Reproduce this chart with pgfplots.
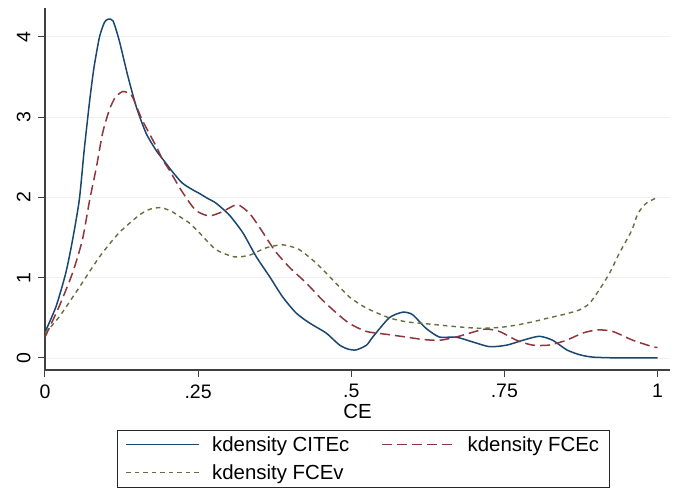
\documentclass[border=0pt]{standalone}
\usepackage{fontspec}
\setmainfont{Liberation Sans}
\usepackage{pgfplots}
\pgfplotsset{compat=1.18}

\definecolor{stnavy}{RGB}{26,71,111}
\definecolor{stmaroon}{RGB}{144,53,59}
\definecolor{stgreen}{RGB}{98,112,64}

\pgfplotstableread{
x y
0 0.32
0.018 0.64
0.034 1.06
0.045 1.47
0.056 1.97
0.064 2.59
0.073 3.21
0.080 3.62
0.089 4.00
0.097 4.18
0.103 4.22
0.111 4.20
0.121 3.96
0.135 3.52
0.149 3.13
0.165 2.80
0.182 2.58
0.195 2.45
0.208 2.32
0.224 2.18
0.240 2.10
0.252 2.05
0.265 1.99
0.279 1.93
0.301 1.78
0.323 1.56
0.345 1.26
0.367 1.01
0.388 0.76
0.410 0.56
0.431 0.44
0.459 0.31
0.481 0.16
0.495 0.11
0.508 0.10
0.525 0.16
0.535 0.26
0.562 0.50
0.584 0.57
0.600 0.54
0.622 0.37
0.644 0.26
0.671 0.26
0.698 0.20
0.726 0.14
0.754 0.16
0.780 0.22
0.807 0.27
0.829 0.22
0.852 0.10
0.873 0.04
0.895 0.01
0.940 0.00
1.000 0.00
}\citec

\pgfplotstableread{
x y
0 0.26
0.023 0.64
0.045 1.06
0.061 1.47
0.073 1.97
0.084 2.38
0.094 2.80
0.105 3.09
0.115 3.25
0.127 3.32
0.136 3.30
0.143 3.25
0.159 2.96
0.182 2.63
0.192 2.47
0.203 2.34
0.224 2.07
0.246 1.84
0.268 1.77
0.289 1.82
0.314 1.91
0.334 1.80
0.350 1.63
0.367 1.43
0.378 1.31
0.399 1.13
0.427 0.93
0.453 0.72
0.476 0.56
0.497 0.43
0.525 0.33
0.562 0.29
0.590 0.26
0.617 0.23
0.644 0.22
0.671 0.26
0.698 0.32
0.720 0.36
0.742 0.33
0.770 0.22
0.796 0.16
0.823 0.16
0.851 0.22
0.878 0.31
0.902 0.35
0.927 0.33
0.960 0.22
0.992 0.14
1.000 0.13
}\fcec

\pgfplotstableread{
x y
0 0.31
0.023 0.51
0.056 0.88
0.089 1.26
0.121 1.56
0.154 1.78
0.170 1.85
0.182 1.87
0.192 1.87
0.208 1.82
0.224 1.74
0.236 1.68
0.252 1.56
0.279 1.35
0.309 1.26
0.334 1.28
0.360 1.37
0.388 1.41
0.415 1.35
0.443 1.18
0.470 0.97
0.497 0.76
0.525 0.62
0.562 0.50
0.590 0.45
0.617 0.43
0.644 0.41
0.671 0.39
0.709 0.37
0.742 0.38
0.770 0.41
0.796 0.45
0.823 0.50
0.851 0.55
0.873 0.60
0.889 0.68
0.905 0.85
0.922 1.06
0.938 1.31
0.958 1.59
0.968 1.80
0.982 1.93
1.000 2.00
}\fcev

\begin{document}
\begin{tikzpicture}
\begin{axis}[
  scale only axis,
  width=625pt,
  height=362pt,
  xmin=0, xmax=1.0204,
  ymin=-0.15, ymax=4.36,
  axis x line*=bottom,
  axis y line*=left,
  axis line style={black!75,line width=1.1pt},
  tick align=outside,
  major tick length=7pt,
  tick style={black!75,line width=1pt},
  xtick={0,0.25,0.5,0.75,1},
  xticklabels={0,.25,.5,.75,1},
  ytick={0,1,2,3,4},
  /pgf/number format/assume math mode=true,
  tick label style={font=\fontsize{19.5}{22}\selectfont},
  yticklabel style={rotate=90,anchor=south},
  yticklabel shift=4pt,
  xticklabel style={yshift=-4pt},
  xlabel={CE},
  label style={font=\fontsize{20.4}{23}\selectfont},
  xlabel style={yshift=1pt},
  ymajorgrids,
  grid style={black!6,line width=0.8pt},
  legend columns=2,
  legend cell align=left,
  legend style={at={(0.5,0)},anchor=north,yshift=-60pt,xshift=6pt,
    draw=black!85,line width=0.8pt,
    font=\fontsize{20.4}{23}\selectfont,
    inner xsep=8pt,inner ysep=2.5pt,
    nodes={inner sep=2pt,text height=17pt,text depth=3pt},
    /tikz/every even column/.append style={column sep=30pt},
    row sep=4pt},
  legend image code/.code={\draw[#1,line width=1.1pt] (0pt,0pt) -- (73pt,0pt); \path (83pt,0pt);},
]
\addplot[stnavy,line width=1.5pt,smooth,tension=0.4] table[x=x,y=y]{\citec};
\addplot[stmaroon,line width=1.5pt,smooth,tension=0.4,dash pattern=on 10pt off 5pt] table[x=x,y=y]{\fcec};
\addplot[stgreen,line width=1.4pt,smooth,tension=0.4,dash pattern=on 4.5pt off 4pt] table[x=x,y=y]{\fcev};
\legend{kdensity CITEc,kdensity FCEc,kdensity FCEv}
\end{axis}
\pgfresetboundingbox
\path (current axis.south west) ++(-45pt,-119pt) rectangle ++(678pt,489pt);
\end{tikzpicture}
\end{document}
